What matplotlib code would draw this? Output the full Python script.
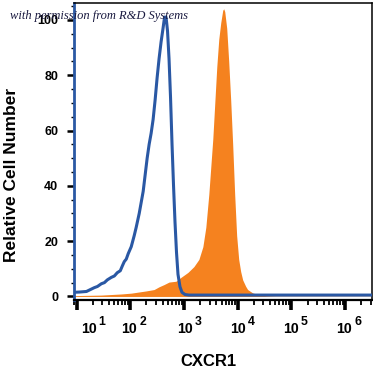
import numpy as np
import matplotlib
matplotlib.use("Agg")
import matplotlib.pyplot as plt
from matplotlib.ticker import LogLocator, MultipleLocator, NullFormatter
import matplotlib.transforms as mtransforms

plt.rcParams['font.family'] = ['Liberation Sans', 'DejaVu Sans']

# ---- data (log10 of fluorescence intensity, relative cell number) ----
isotype_log10 = [0.944, 1.056, 1.185, 1.259, 1.333, 1.389, 1.463, 1.519, 1.574, 1.648,
                 1.704, 1.759, 1.815, 1.852, 1.889, 1.926, 1.963, 2.019, 2.074, 2.111,
                 2.167, 2.204, 2.241, 2.278, 2.315, 2.352, 2.389, 2.426, 2.463, 2.500,
                 2.537, 2.574, 2.611, 2.639, 2.667, 2.694, 2.722, 2.750, 2.778, 2.806,
                 2.833, 2.861, 2.889, 2.926, 2.963, 3.019, 3.093, 6.5]
isotype_counts = [1.5, 1.6, 1.8, 2.5, 3.2, 3.6, 4.6, 5.0, 6.0, 6.9,
                  7.4, 8.6, 9.3, 11.0, 12.6, 13.5, 15.5, 18, 22, 25,
                  30, 34, 38, 44, 50, 55, 59, 64, 71, 79,
                  86, 92, 97, 101, 101, 96, 86, 72, 55, 40,
                  27, 16, 8, 3.5, 1.5, 0.7, 0.5, 0.5]

cxcr1_log10 = [0.944, 1.463, 1.833, 2.019, 2.296, 2.444, 2.537, 2.630, 2.722, 2.852,
               2.944, 3.074, 3.185, 3.278, 3.352, 3.407, 3.463, 3.500, 3.537, 3.574,
               3.611, 3.648, 3.685, 3.722, 3.741, 3.759, 3.796, 3.833, 3.870, 3.907,
               3.944, 3.981, 4.019, 4.056, 4.093, 4.148, 4.185, 4.278, 4.370, 4.519,
               4.704, 6.5]
cxcr1_counts = [0.3, 0.5, 0.9, 1.2, 2.0, 2.5, 3.5, 4.3, 5.2, 5.5,
                6.9, 8.7, 10.8, 13.4, 18, 25, 37, 47, 57, 70,
                83, 93, 99, 103.5, 104, 103, 97, 85, 71, 55,
                37, 22, 13.4, 9, 6, 3.7, 2.5, 1.3, 0.7, 0.3,
                0.15, 0.1]

x_tick_exponents = ['1', '2', '3', '4', '5', '6']
# log10 position of the right edge of each "10" label base
x_label_anchor = [1.370, 2.130, 3.167, 4.148, 5.130, 6.130]
y_ticks = [0, 20, 40, 60, 80, 100]

blue = '#2a58a4'
orange = '#f5821f'

W = H = 373
fig = plt.figure(figsize=(W / 100, H / 100), dpi=100)
ax_l, ax_r, ax_t, ax_b = 73.5, 372, 3, 299.5
ax = fig.add_axes([ax_l / W, 1 - ax_b / H, (ax_r - ax_l) / W, (ax_b - ax_t) / H])

xc = np.power(10.0, cxcr1_log10)
xi = np.power(10.0, isotype_log10)
ax.fill_between(xc, 0, cxcr1_counts, color=orange, lw=0, zorder=2)
ax.plot(xi, isotype_counts, color=blue, lw=2.2, zorder=3, solid_joinstyle='round')

ax.set_xscale('log')
ax.set_xlim(10 ** 0.944, 10 ** 6.5)
ax.set_ylim(-1.1, 106.1)

ax.xaxis.set_major_locator(LogLocator(base=10, numticks=20))
ax.xaxis.set_minor_locator(LogLocator(base=10, subs=np.arange(2, 10), numticks=50))
ax.xaxis.set_major_formatter(NullFormatter())
ax.xaxis.set_minor_formatter(NullFormatter())
ax.tick_params(axis='x', which='major', direction='out', length=7, width=2.6, color='black')
ax.tick_params(axis='x', which='minor', direction='out', length=3.5, width=1.3, color='black')

ax.set_yticks(y_ticks)
ax.yaxis.set_minor_locator(MultipleLocator(5))
ax.set_yticklabels([str(v) for v in y_ticks], fontsize=9, fontweight='bold')
ax.tick_params(axis='y', which='major', direction='out', length=5, width=1.8, pad=6)
ax.tick_params(axis='y', which='minor', direction='out', length=2.5, width=1.0)

for s in ['top', 'right']:
    ax.spines[s].set_linewidth(1.1)
    ax.spines[s].set_color('black')
ax.spines['bottom'].set_linewidth(1.6)
ax.spines['bottom'].set_color('black')
ax.spines['left'].set_linewidth(2.0)
ax.spines['left'].set_color(blue)

trans = mtransforms.blended_transform_factory(ax.transData, ax.transAxes)
base_y = -(333 - ax_b) / (ax_b - ax_t)
for e, p in zip(x_tick_exponents, x_label_anchor):
    ax.text(10 ** p, base_y, '10', transform=trans, ha='right', va='baseline',
            fontsize=10.2, fontweight='bold')
    ax.annotate(e, xy=(10 ** p, base_y), xycoords=trans, xytext=(1.6, 6.0),
                textcoords='offset points', ha='left', va='baseline',
                fontsize=8.8, fontweight='bold')

fig.text(208 / W, 1 - 361 / H, 'CXCR1', ha='center', va='center',
         fontsize=12, fontweight='bold')
fig.text(12 / W, 1 - 175 / H, 'Relative Cell Number', ha='center', va='center',
         rotation=90, fontsize=12.5, fontweight='bold')
fig.text(10 / W, 1 - 16 / H, 'with permission from R&D Systems', ha='left', va='center',
         fontsize=9, style='italic', family=['Liberation Serif', 'DejaVu Serif'],
         color='#1a1a40', zorder=10)

fig.savefig('out.png', dpi=100)
